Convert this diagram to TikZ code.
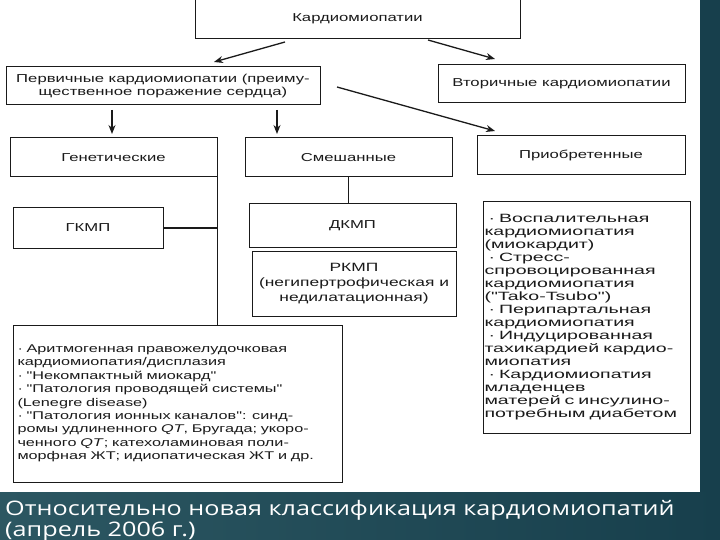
\documentclass[tikz,border=0pt]{standalone}
\usepackage{fontspec}
\setmainfont{Liberation Sans}
\newfontfamily\diagfont[FakeStretch=1.45]{Liberation Sans}
\newfontfamily\acqfont[FakeStretch=1.63]{Liberation Sans}
\newfontfamily\capfont[FakeStretch=1.26]{Open Sans}
\usetikzlibrary{arrows.meta,calc}
\definecolor{tealdark}{HTML}{173F4C}
\definecolor{teallight}{HTML}{2C5762}
\definecolor{inkgray}{HTML}{1A1A1A}
\begin{document}
\begin{tikzpicture}[x=1pt,y=-1pt,
  box/.style={draw=inkgray, line width=1pt, inner sep=0pt, align=center,
    font=\diagfont\fontsize{11.5}{13.5}\selectfont, text=inkgray},
  listbox/.style={box, align=left},
  conn/.style={draw=inkgray, line width=1.3pt},
  arr/.style={conn, -{Stealth[length=9pt,width=7pt]}},
  captext/.style={anchor=base west, inner sep=0pt, text=white,
    font=\capfont\fontsize{20}{23}\selectfont}]
\useasboundingbox (0,0) rectangle (720,540);
\fill[tealdark] (0,0) rectangle (720,540);
\shade[left color=teallight, right color=tealdark] (0,492) rectangle (720,540);
\fill[white] (0,0) rectangle (700,492);

\node[box, minimum width=325pt, minimum height=40pt] (top) at (357.5,18.5) {Кардиомиопатии};
\node[box, minimum width=314pt, minimum height=38pt] (prim) at (163,86)
  {Первичные кардиомиопатии (преиму-\\щественное поражение сердца)};
\node[box, minimum width=247pt, minimum height=38pt] (sec) at (561.5,84) {Вторичные кардиомиопатии};
\node[box, minimum width=207pt, minimum height=39pt] (gen) at (113.5,157.5) {Генетические};
\node[box, minimum width=207pt, minimum height=39pt] (mix) at (348.5,157.5) {Смешанные};
\node[box, minimum width=208pt, minimum height=39pt] (acq) at (581,155.5) {Приобретенные};
\node[box, minimum width=150pt, minimum height=40pt] (gkmp) at (88,228) {ГКМП};
\node[box, minimum width=207pt, minimum height=43pt] (dkmp) at (352.5,225.5) {ДКМП};
\node[box, minimum width=204pt, minimum height=65pt,
  font=\diagfont\fontsize{12}{15}\selectfont] (rkmp) at (354,283.5)
  {РКМП\\(негипертрофическая и\\недилатационная)};
\node[listbox, minimum width=329pt, minimum height=157pt, text width=320pt, inner xsep=4.5pt,
  font=\diagfont\fontsize{11.2}{13.4}\selectfont] (big) at (177.5,403.5)
  {· Аритмогенная правожелудочковая\\
   кардиомиопатия/дисплазия\\
   · "Некомпактный миокард"\\
   · "Патология проводящей системы"\\
   (Lenegre disease)\\
   · "Патология ионных каналов": синд-\\
   ромы удлиненного \textit{QT}, Бругада; укоро-\\
   ченного \textit{QT}; катехоламиновая поли-\\
   морфная ЖТ; идиопатическая ЖТ и др.};
\node[listbox, minimum width=207pt, minimum height=231pt, text width=204pt, inner xsep=1.5pt,
  font=\acqfont\fontsize{12}{13}\selectfont] (acqlist) at (586.5,317.5)
  {\ · Воспалительная\\
   кардиомиопатия\\
   (миокардит)\\
   \ · Стресс-\\
   спровоцированная\\
   кардиомиопатия\\
   ("Tako-Tsubo")\\
   \ · Перипартальная\\
   кардиомиопатия\\
   \ · Индуцированная\\
   тахикардией кардио-\\
   миопатия\\
   \ · Кардиомиопатия\\
   младенцев\\
   матерей с инсулино-\\
   потребным диабетом};

% arrows
\coordinate (a1s) at (285,42); \coordinate (a1e) at (214,62);
\coordinate (a2s) at (428,40); \coordinate (a2e) at (495,59);
\coordinate (a3s) at (337,87); \coordinate (a3e) at (495,131);
\coordinate (a4s) at (112,110); \coordinate (a4e) at (112,134);
\coordinate (a5s) at (277,110); \coordinate (a5e) at (277,134);
\draw[arr] (a1s) -- (a1e);
\draw[arr] (a2s) -- (a2e);
\draw[arr] (a3s) -- (a3e);
\draw[arr] (a4s) -- (a4e);
\draw[arr] (a5s) -- (a5e);

% connectors
\draw[conn] (gen.south east) -- (gen.south east |- big.north);
\draw[conn] (gkmp.east) -- (gkmp.east -| gen.east);
\draw[conn] (mix.south) -- (mix.south |- dkmp.north);

% caption
\node[captext] (cap1) at (5,515) {Относительно новая классификация кардиомиопатий};
\node[captext] (cap2) at (5,536) {(апрель 2006 г.)};
\end{tikzpicture}
\end{document}
